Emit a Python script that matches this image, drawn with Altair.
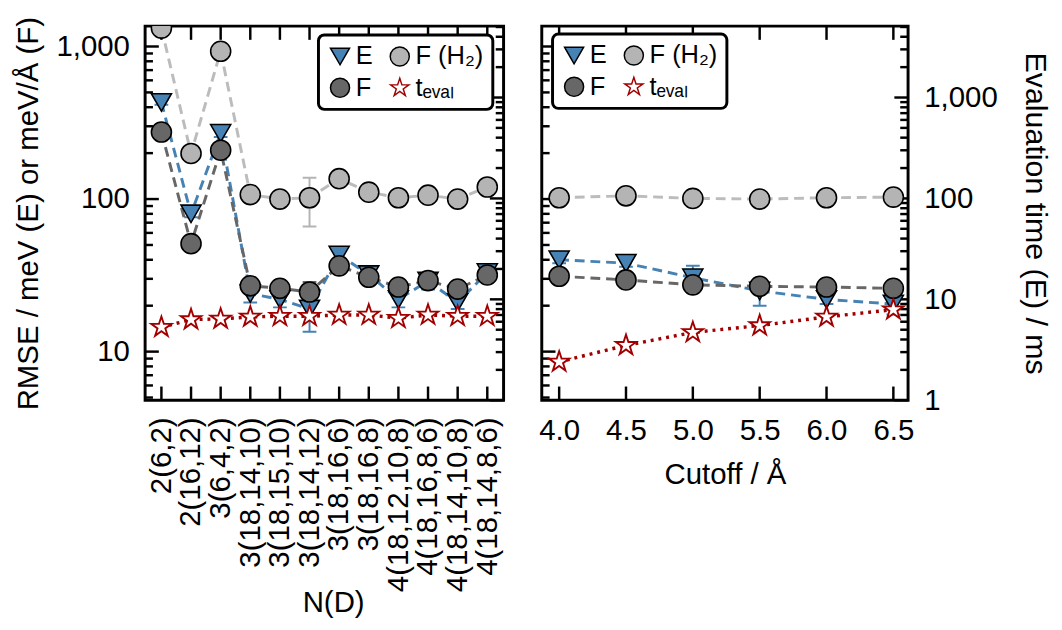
import altair as alt
import pandas as pd

FONT = "Liberation Sans"

# ---------------- data ----------------
cats = ["2(6,2)", "2(16,12)", "3(6,4,2)", "3(18,14,10)", "3(18,15,10)", "3(18,14,12)",
        "3(18,16,6)", "3(18,16,8)", "4(18,12,10,8)", "4(18,16,8,6)", "4(18,14,10,8)", "4(18,14,8,6)"]
E_nd = [430, 80, 270, 24, 22, 19, 43, 32, 22, 29, 21, 33]
E_nd_err = [15, 4, 15, 3, 2.5, 5.5, 3, 3, 2.5, 3.5, 2, 3.5]
F_nd = [275, 51, 209, 27, 26, 24.6, 36.5, 30.7, 26.5, 29.2, 25.7, 31.8]
F_nd_err = [8, 2, 8, 1.5, 1.5, 4, 1.5, 1.5, 1.5, 1.5, 1.5, 1.5]
H2_nd = [1320, 199, 930, 107, 100, 102, 136, 111, 102, 106, 100, 120]
H2_nd_err = [20, 5, 20, 3, 3, 36, 5, 4, 4, 4, 3, 4]
t_nd = [5.3, 6.3, 6.4, 6.7, 6.8, 6.8, 7.0, 7.0, 6.5, 7.0, 6.8, 6.8]

cutoffs = [4.0, 4.5, 5.0, 5.5, 6.0, 6.5]
E_rc = [40, 38, 30.5, 25, 22, 20.5]
E_rc_err = [2, 2, 6, 5, 1.5, 3]
F_rc = [31.2, 29.5, 27.4, 26.8, 26.5, 26]
F_rc_err = [1, 1, 1, 1, 1, 1]
H2_rc = [102, 105, 101, 100, 102, 103]
H2_rc_err = [3, 5, 3, 3, 3, 4]
t_rc = [2.4, 3.5, 4.7, 5.5, 6.7, 7.9]

# axis tick values
rmse_major = [10, 100, 1000]
rmse_minor = [5, 6, 7, 8, 9, 20, 30, 40, 50, 60, 70, 80, 90,
              200, 300, 400, 500, 600, 700, 800, 900]
time_major = [1, 10, 100, 1000]
time_minor = [2, 3, 4, 5, 6, 7, 8, 9, 20, 30, 40, 50, 60, 70, 80, 90,
              200, 300, 400, 500, 600, 700, 800, 900, 2000, 3000, 4000, 5000]

# ---------------- styles ----------------
E_COL, F_COL, H_COL, T_COL = "#4682b4", "#676767", "#b4b4b4", "#a20000"
H_LINE = "#bcbcbc"
# series keys sort in legend order (column-major, 2 columns); labels mapped below
S_E, S_F, S_H, S_T = "a", "b", "c", "d"
ORDER = [S_E, S_F, S_H, S_T]
LABEL_EXPR = "{'a': 'E', 'b': 'F', 'c': 'F (H₂)', 'd': 'tₑᵥₐₗ'}[datum.label]"
STAR = ("M0,-1L0.225,-0.309L0.951,-0.309L0.363,0.118L0.588,0.809L0,0.382"
        "L-0.588,0.809L-0.363,0.118L-0.951,-0.309L-0.225,-0.309Z")

W_L, W_R, H = 366, 374, 382
MAJ, MIN = 14, 8

RMSE_DOM = [4.8, 1360]
TIME_DOM = [1, 5100]


def ys_r():
    return alt.Scale(type="log", domain=RMSE_DOM, nice=False)


def ys_t():
    return alt.Scale(type="log", domain=TIME_DOM, nice=False)


def sdf(xs, vals, errs, name):
    return pd.DataFrame({"x": xs, "v": vals,
                         "lo": [v - e for v, e in zip(vals, errs)],
                         "hi": [v + e for v, e in zip(vals, errs)],
                         "series": name})


def make_legend(lx, ly):
    return alt.Legend(title=None, orient="none", legendX=lx, legendY=ly, columns=2,
                      labelExpr=LABEL_EXPR,
                      labelFontSize=26, labelFont=FONT, labelColor="black",
                      symbolSize=380, symbolStrokeWidth=1.5, labelOffset=3,
                      strokeColor="black", fillColor="white", cornerRadius=6,
                      padding=9, rowPadding=6, columnPadding=14)


def panel(xs, xtype, xscale, xsort, xaxis, width, ser, t_vals, axis_r, axis_t, lx, ly, xtick_vals):
    def X():
        kw = {"scale": xscale, "axis": xaxis}
        if xsort is not None:
            kw["sort"] = xsort
        return alt.X(f"x:{xtype}", **kw)

    leg = make_legend(lx, ly)
    shape = alt.Shape("series:N", scale=alt.Scale(domain=ORDER, range=["triangle-down", "circle", "circle", STAR]), legend=leg)
    fill = alt.Fill("series:N", scale=alt.Scale(domain=ORDER, range=[E_COL, F_COL, H_COL, "white"]), legend=leg)
    stroke = alt.Stroke("series:N", scale=alt.Scale(domain=ORDER, range=["black", "black", "black", T_COL]), legend=leg)

    layers = []
    # ---- frame ticks (inward) ----
    xt = pd.DataFrame({"x": xtick_vals})
    layers.append(alt.Chart(xt).mark_rule(color="black", strokeWidth=2.5).encode(
        x=X(), y=alt.value(0), y2=alt.value(MAJ)))
    layers.append(alt.Chart(xt).mark_rule(color="black", strokeWidth=2.5).encode(
        x=X(), y=alt.value(H - MAJ), y2=alt.value(H)))
    layers.append(alt.Chart(pd.DataFrame({"v": rmse_major})).mark_rule(color="black", strokeWidth=2.5).encode(
        y=alt.Y("v:Q", scale=ys_r(), axis=None), x=alt.value(0), x2=alt.value(MAJ)))
    layers.append(alt.Chart(pd.DataFrame({"v": rmse_minor})).mark_rule(color="black", strokeWidth=2.5).encode(
        y=alt.Y("v:Q", scale=ys_r(), axis=None), x=alt.value(0), x2=alt.value(MIN)))
    layers.append(alt.Chart(pd.DataFrame({"v": time_major})).mark_rule(color="black", strokeWidth=2.5).encode(
        y=alt.Y("v:Q", scale=ys_t(), axis=None), x=alt.value(width - MAJ), x2=alt.value(width)))
    layers.append(alt.Chart(pd.DataFrame({"v": time_minor})).mark_rule(color="black", strokeWidth=2.5).encode(
        y=alt.Y("v:Q", scale=ys_t(), axis=None), x=alt.value(width - MIN), x2=alt.value(width)))

    for name, lcol, bcol in [(S_H, H_LINE, H_COL), (S_E, E_COL, E_COL), (S_F, F_COL, F_COL)]:
        d = ser[name]
        layers.append(alt.Chart(d).mark_line(color=lcol, strokeWidth=3, strokeDash=[10, 6], clip=True).encode(
            x=X(), y=alt.Y("v:Q", scale=ys_r(), axis=None)))
        layers.append(alt.Chart(d).mark_rule(color=bcol, strokeWidth=2, clip=True).encode(
            x=X(), y=alt.Y("lo:Q", scale=ys_r(), axis=None), y2="hi:Q"))
        for f in ["lo", "hi"]:
            layers.append(alt.Chart(d).mark_tick(color=bcol, size=14, thickness=2, orient="horizontal",
                                                 opacity=1, clip=True).encode(
                x=X(), y=alt.Y(f"{f}:Q", scale=ys_r(), axis=None)))
    pts = pd.concat([ser[S_H], ser[S_E], ser[S_F]])
    layers.append(alt.Chart(pts).mark_point(filled=True, opacity=1, strokeWidth=1.6, size=420, clip=True).encode(
        x=X(), y=alt.Y("v:Q", scale=ys_r(), axis=axis_r),
        shape=shape, fill=fill, stroke=stroke))

    tdf = pd.DataFrame({"x": xs, "v": t_vals, "series": S_T})
    layers.append(alt.Chart(tdf).mark_line(color=T_COL, strokeWidth=3.5, strokeDash=[3, 5], clip=True).encode(
        x=X(), y=alt.Y("v:Q", scale=ys_t(), axis=None)))
    layers.append(alt.Chart(tdf).mark_point(filled=True, opacity=1, strokeWidth=1.9, size=480, clip=True).encode(
        x=X(), y=alt.Y("v:Q", scale=ys_t(), axis=axis_t),
        shape=shape, fill=fill, stroke=stroke))

    return alt.layer(*layers).resolve_scale(y="independent").properties(width=width, height=H)


# ---------------- left panel ----------------
ser_l = {S_E: sdf(cats, E_nd, E_nd_err, S_E), S_F: sdf(cats, F_nd, F_nd_err, S_F),
         S_H: sdf(cats, H2_nd, H2_nd_err, S_H)}
xaxis_l = alt.Axis(labelAngle=-90, labelFontSize=30, labelPadding=17, ticks=False, domain=False,
                   title="N(D)", titleFontSize=30, titleX=192, titleY=216, titleAlign="center",
                   titleBaseline="alphabetic", titleAngle=0, grid=False)
axis_rmse = alt.Axis(orient="left", values=rmse_major, format=",", ticks=False, domain=False,
                     labelFontSize=30, labelPadding=16, title="RMSE / meV (E) or meV/Å (F)",
                     titleFontSize=30, titlePadding=13, grid=False)
left = panel(cats, "N", alt.Scale(type="point", padding=0.55), cats, xaxis_l, W_L, ser_l, t_nd,
             axis_rmse, None, 177, 9, cats)

# ---------------- right panel ----------------
ser_r = {S_E: sdf(cutoffs, E_rc, E_rc_err, S_E), S_F: sdf(cutoffs, F_rc, F_rc_err, S_F),
         S_H: sdf(cutoffs, H2_rc, H2_rc_err, S_H)}
xaxis_r = alt.Axis(values=cutoffs, format=".1f", labelFontSize=30, labelPadding=16, ticks=False,
                   domain=False, labelFlush=False, title="Cutoff / Å", titleFontSize=30,
                   titlePadding=15, grid=False)
axis_time = alt.Axis(orient="right", values=time_major, format=",", ticks=False, domain=False,
                     labelFontSize=30, labelPadding=16, title="Evaluation time (E) / ms",
                     titleFontSize=31, titlePadding=22, grid=False)
right = panel(cutoffs, "Q", alt.Scale(domain=[3.87, 6.61], nice=False, zero=False), None, xaxis_r, W_R,
              ser_r, t_rc, None, axis_time, 11, 8, cutoffs)

chart = (alt.hconcat(left, right, spacing=31)
         .resolve_scale(shape="independent", fill="independent", stroke="independent")
         .resolve_legend(shape="independent", fill="independent", stroke="independent")
         .properties(padding={"left": 4, "top": 0, "right": 2, "bottom": 0})
         .configure(font=FONT)
         .configure_view(stroke="black", strokeWidth=3)
         .configure_legend(strokeWidth=3)
         .configure_axis(labelColor="black", titleColor="black", titleFontWeight="normal",
                         labelFont=FONT, titleFont=FONT))

chart.save("out.html", embed_options={"renderer": "svg", "actions": False})
